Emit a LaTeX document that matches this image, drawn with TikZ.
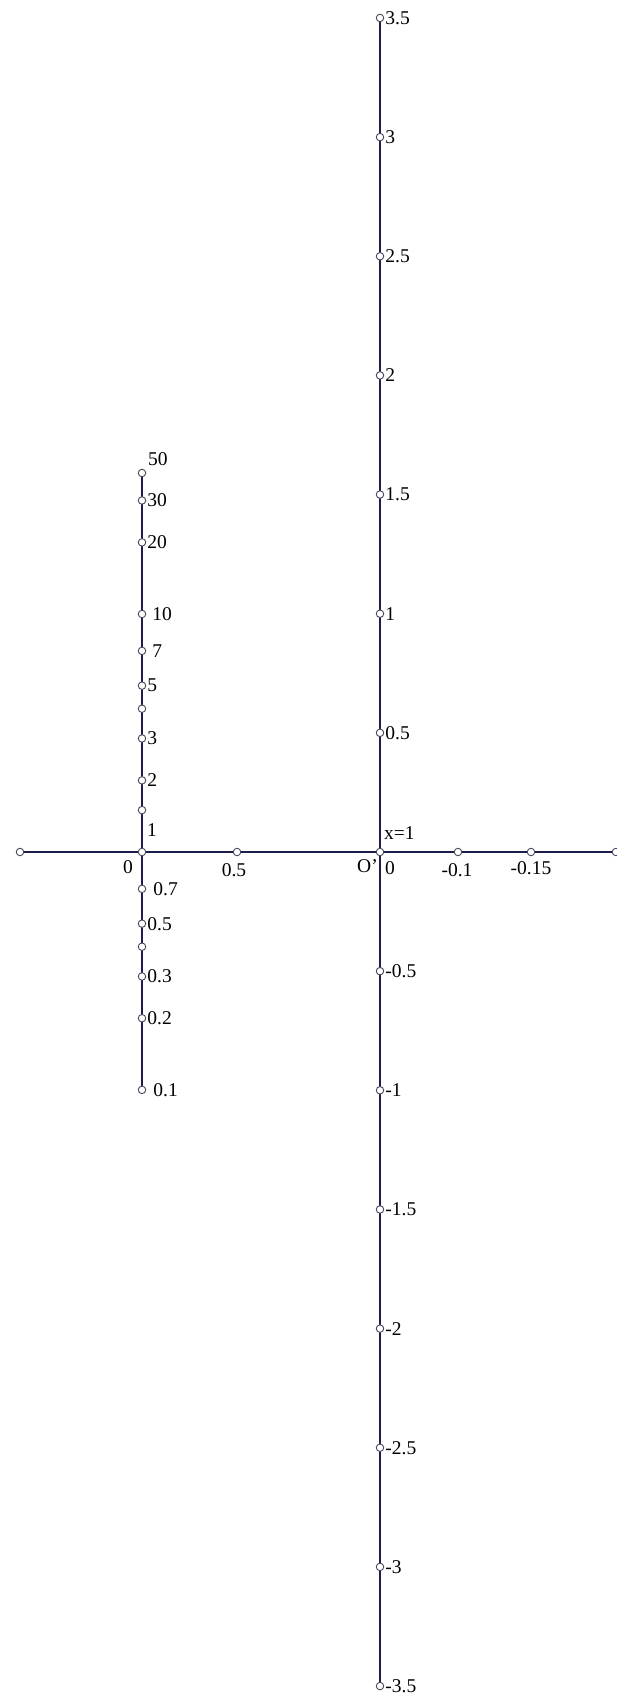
\documentclass[tikz,border=0pt]{standalone}
\usepackage{fontspec}
\setmainfont{Liberation Serif}
\definecolor{navy}{RGB}{28,28,78}
\definecolor{dotc}{RGB}{70,70,90}
\begin{document}
\begin{tikzpicture}[x=1pt,y=-1pt,
  axis/.style={line width=2.6pt, draw=navy},
  dot/.style={circle, draw=dotc, fill=white, line width=0.9pt, inner sep=0pt, minimum size=7.5pt},
  lab/.style={font=\fontsize{19.5}{19.5}\selectfont, text=black, inner sep=0pt}]
\useasboundingbox[fill=white] (0,0) rectangle (616,1697);
% axis end points
\coordinate (Rtop) at (380,18);
\coordinate (Rbot) at (380,1686);
\coordinate (Hl) at (20,852);
\coordinate (Hr) at (616,852);
\coordinate (Ltop) at (142,473);
\coordinate (Lbot) at (142,1090);
\coordinate (O) at (142,852);
\coordinate (Op) at (380,852);
\draw[axis] (Hl) -- (Hr);
\draw[axis] (Rtop) -- (Rbot);
\draw[axis] (Ltop) -- (Lbot);
% right (uniform) axis
\foreach \v [count=\i] in {3.5,3,2.5,2,1.5,1,0.5,-0.5,-1,-1.5,-2,-2.5,-3,-3.5}{
  \node[dot] (r\i) at (380,{852-238.3*\v}) {};
  \node[lab,anchor=west] (rl\i) at ([xshift=1pt]r\i.east) {\v};
}
% left (logarithmic) axis
\node[dot] (l50) at (Ltop) {};
\node[lab,anchor=west] (ll50) at (148,459) {50};
\foreach \v/\dx [count=\i] in {30/1,20/1,10/6,7/6,5/1,3/1,2/1,0.7/7,0.5/1,0.3/1,0.2/1,0.1/7}{
  \node[dot] (lt\i) at (142,{852-238*log10(\v)}) {};
  \node[lab,anchor=west] (lab\i) at ([xshift=\dx pt]lt\i.east) {\v};
}
\foreach \v [count=\i] in {4,1.5,0.4}{
  \node[dot] (lu\i) at (142,{852-238*log10(\v)}) {};
}
\node[lab,anchor=west] (l1) at (147,830) {1};
% horizontal axis
\node[dot] (h1) at (Hl) {};
\node[dot] (h2) at (O) {};
\node[dot] (h3) at (237,852) {};
\node[dot] (h4) at (Op) {};
\node[dot] (h5) at (458,852) {};
\node[dot] (h6) at (531,852) {};
\node[dot] (h7) at (Hr) {};
\node[lab] (t0) at (128,867) {0};
\node[lab] (t05) at (234,870) {0.5};
\node[lab,anchor=east] (tO) at (378,866) {O'};
\node[lab] (tOz) at (390,868) {0};
\node[lab] (t01) at (457,870) {-0.1};
\node[lab] (t015) at (531,868) {-0.15};
\node[lab,anchor=west] (tx) at (384,833) {x=1};
\end{tikzpicture}
\end{document}
